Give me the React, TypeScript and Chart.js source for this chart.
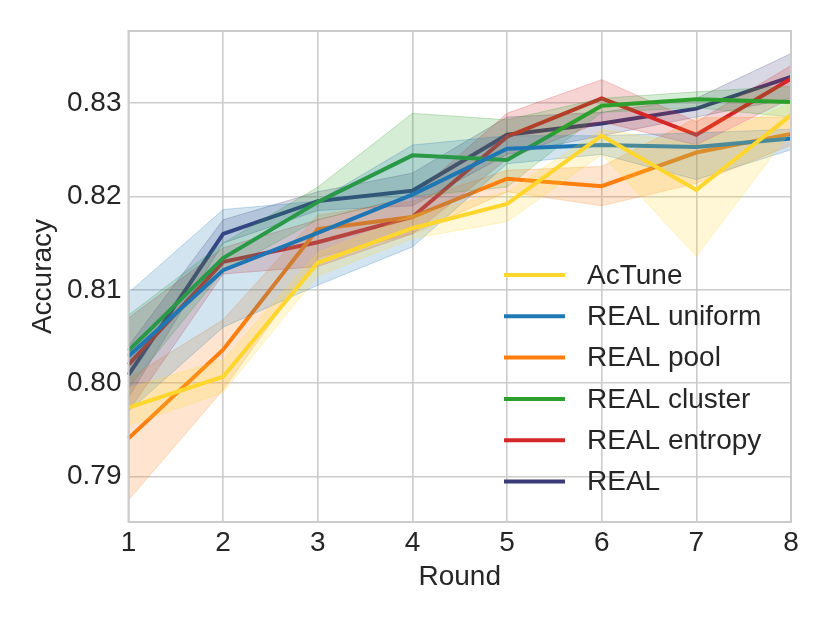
import React, { useEffect, useRef } from 'react';
import { Chart, registerables } from 'chart.js';

Chart.register(...registerables);

const rounds = ['1', '2', '3', '4', '5', '6', '7', '8'];
const yTicks = [0.79, 0.8, 0.81, 0.82, 0.83];

const seriesNames = ['AcTune', 'REAL uniform', 'REAL pool', 'REAL cluster', 'REAL entropy', 'REAL'];
const seriesColors = ['#ffd62d', '#1f77b4', '#ff7f0e', '#2ca02c', '#d62728', '#393b79'];

// mean accuracy per round
const acTune = [0.7974, 0.8007, 0.8129, 0.8166, 0.8192, 0.8265, 0.8207, 0.8287];
const realUniform = [0.8029, 0.8121, 0.8161, 0.8202, 0.8251, 0.8255, 0.8253, 0.8262];
const realPool = [0.7941, 0.8036, 0.8165, 0.8178, 0.8219, 0.8211, 0.8247, 0.8267];
const realCluster = [0.8035, 0.8134, 0.8194, 0.8244, 0.8239, 0.8297, 0.8304, 0.8301];
const realEntropy = [0.802, 0.813, 0.8151, 0.8178, 0.8264, 0.8305, 0.8266, 0.8326];
const real = [0.8009, 0.816, 0.8195, 0.8206, 0.8266, 0.8278, 0.8294, 0.8328];

// shaded band (lower / upper)
const acTuneLo = [0.7955, 0.799, 0.8115, 0.8155, 0.8173, 0.8245, 0.8136, 0.827];
const acTuneHi = [0.7995, 0.8025, 0.814, 0.818, 0.8205, 0.8272, 0.8255, 0.83];
const uniformLo = [0.797, 0.806, 0.8105, 0.8146, 0.8235, 0.8245, 0.8218, 0.825];
const uniformHi = [0.8097, 0.8186, 0.8195, 0.8255, 0.8265, 0.8265, 0.8268, 0.8272];
const poolLo = [0.7875, 0.7993, 0.8135, 0.816, 0.8205, 0.819, 0.8214, 0.8255];
const poolHi = [0.8005, 0.8068, 0.818, 0.8195, 0.8228, 0.8232, 0.8284, 0.8285];
const clusterLo = [0.7995, 0.812, 0.8175, 0.82, 0.821, 0.829, 0.8295, 0.8285];
const clusterHi = [0.8073, 0.815, 0.821, 0.8289, 0.8282, 0.8305, 0.8312, 0.8318];
const entropyLo = [0.797, 0.8117, 0.8125, 0.816, 0.824, 0.828, 0.8255, 0.8305];
const entropyHi = [0.807, 0.8145, 0.8175, 0.82, 0.8289, 0.8325, 0.828, 0.834];
const realLo = [0.7985, 0.815, 0.8185, 0.819, 0.8245, 0.8265, 0.8285, 0.8305];
const realHi = [0.804, 0.8175, 0.8205, 0.8225, 0.8285, 0.829, 0.8305, 0.8353];

const means = [acTune, realUniform, realPool, realCluster, realEntropy, real];
const lows = [acTuneLo, uniformLo, poolLo, clusterLo, entropyLo, realLo];
const highs = [acTuneHi, uniformHi, poolHi, clusterHi, entropyHi, realHi];

const FONT = '"Liberation Sans", Arial, sans-serif';
const FONT_SIZE = 28;
const TEXT = '#262626';
const GRID = '#cccccc';

const alpha = (hex: string, a: number) => {
  const n = parseInt(hex.slice(1), 16);
  return `rgba(${(n >> 16) & 255}, ${(n >> 8) & 255}, ${n & 255}, ${a})`;
};

// legend inside the plot + frame round the chart area
const framePlugin = {
  id: 'frameAndLegend',
  afterDatasetsDraw(chart: any) {
    const { ctx, chartArea } = chart;
    ctx.save();
    ctx.strokeStyle = GRID;
    ctx.lineWidth = 2;
    ctx.strokeRect(chartArea.left, chartArea.top, chartArea.right - chartArea.left, chartArea.bottom - chartArea.top);

    ctx.font = `${FONT_SIZE}px ${FONT}`;
    ctx.textBaseline = 'middle';
    ctx.fillStyle = TEXT;
    ctx.lineCap = 'butt';
    seriesNames.forEach((name, i) => {
      const y = 275 + i * 41.3;
      ctx.strokeStyle = seriesColors[i];
      ctx.lineWidth = 4;
      ctx.beginPath();
      ctx.moveTo(504, y);
      ctx.lineTo(565, y);
      ctx.stroke();
      ctx.fillText(name, 587, y + 1);
    });
    ctx.restore();
  },
};

const App: React.FC = () => {
  const canvasRef = useRef<HTMLCanvasElement>(null);

  useEffect(() => {
    document.body.style.margin = '0';
    if (!canvasRef.current) return;

    const datasets: any[] = [];
    seriesNames.forEach((name, i) => {
      const c = seriesColors[i];
      datasets.push({
        label: '_hi' + i,
        data: highs[i],
        borderColor: alpha(c, 0.25),
        borderWidth: 1,
        pointRadius: 0,
        fill: false,
      });
      datasets.push({
        label: '_lo' + i,
        data: lows[i],
        borderColor: alpha(c, 0.25),
        borderWidth: 1,
        pointRadius: 0,
        backgroundColor: alpha(c, 0.2),
        fill: '-1',
      });
      datasets.push({
        label: name,
        data: means[i],
        borderColor: c,
        borderWidth: 4,
        pointRadius: 0,
        fill: false,
      });
    });

    const chart = new Chart(canvasRef.current, {
      type: 'line',
      data: { labels: rounds, datasets },
      options: {
        responsive: false,
        animation: false,
        layout: { padding: { left: 0, right: 39, top: 31, bottom: 0 } },
        elements: { line: { tension: 0 } },
        plugins: {
          legend: { display: false },
          tooltip: { enabled: false },
        },
        scales: {
          x: {
            type: 'category',
            offset: false,
            grid: { color: GRID, lineWidth: 1.6, drawTicks: false },
            border: { display: false },
            ticks: { color: TEXT, font: { family: FONT, size: FONT_SIZE }, padding: 4, maxRotation: 0 },
            title: {
              display: true,
              text: 'Round',
              color: TEXT,
              font: { family: FONT, size: FONT_SIZE },
              padding: { top: 0, bottom: 29 },
            },
            afterFit: (s: any) => {
              s.height = 101;
            },
          },
          y: {
            min: 0.78515,
            max: 0.83771,
            grid: { color: GRID, lineWidth: 1.6, drawTicks: false },
            border: { display: false },
            afterBuildTicks: (s: any) => {
              s.ticks = yTicks.map((v) => ({ value: v }));
            },
            ticks: {
              color: TEXT,
              font: { family: FONT, size: FONT_SIZE },
              padding: 7,
              callback: (v: any) => Number(v).toFixed(2),
            },
            title: {
              display: true,
              text: 'Accuracy',
              color: TEXT,
              font: { family: FONT, size: FONT_SIZE },
              padding: { top: 26, bottom: 0 },
            },
            afterFit: (s: any) => {
              s.width = 128.5;
            },
          },
        },
      },
      plugins: [framePlugin],
    });

    return () => {
      chart.destroy();
    };
  }, []);

  return (
    <div style={{ width: 830, height: 623 }}>
      <canvas ref={canvasRef} width={830} height={623} style={{ width: 830, height: 623 }} />
    </div>
  );
};

export default App;
